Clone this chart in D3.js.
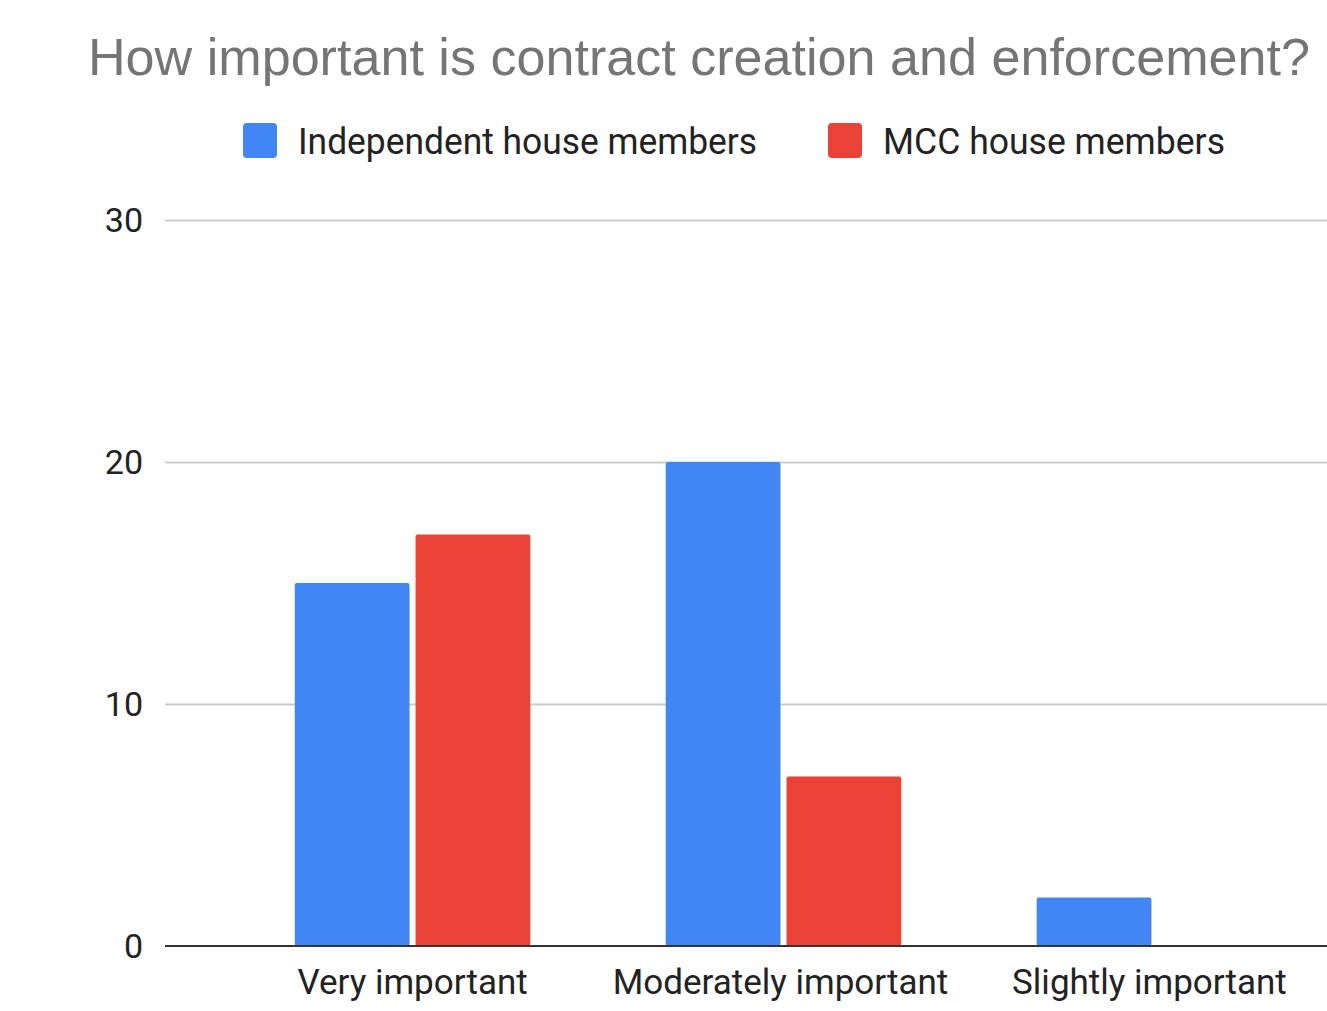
<!DOCTYPE html>
<html><head><meta charset="utf-8">
<script src="https://cdn.jsdelivr.net/npm/d3@7"></script>
<style>body{margin:0;background:#fff}svg{display:block}</style>
</head><body>
<svg id="c" width="1327" height="1011"></svg>
<script>
const titleText = "How important is contract creation and enforcement?";
const categories = ["Very important", "Moderately important", "Slightly important"];
const seriesNames = ["Independent house members", "MCC house members"];
const independentValues = [15, 20, 2];
const mccValues = [17, 7, 0];
const yTicks = [0, 10, 20, 30];
const colors = ["#4285f4", "#ea4335"];

const svg = d3.select("#c");
const plotLeft = 165, plotRight = 1327, plotTop = 220, plotBottom = 946;

const y = d3.scaleLinear().domain([0, 30]).range([plotBottom, plotTop]);
const x0 = d3.scaleBand().domain(categories).range([228, 1339]).paddingInner(0.365).paddingOuter(0.18);
const x1 = d3.scaleBand().domain(seriesNames).range([0, x0.bandwidth()]).paddingInner(0.05);

// title
svg.append("text").attr("x", 88).attr("y", 75)
  .attr("font-family", "Liberation Sans, Arial, sans-serif").attr("font-size", 52)
  .attr("textLength", 1222).attr("lengthAdjust", "spacingAndGlyphs")
  .attr("fill", "#757575").text(titleText);

// gridlines
const grid = svg.append("g");
yTicks.filter(t => t > 0).forEach(t => {
  grid.append("line").attr("x1", plotLeft).attr("x2", plotRight)
    .attr("y1", Math.round(y(t)) + 0.5).attr("y2", Math.round(y(t)) + 0.5)
    .attr("stroke", "#cccccc").attr("stroke-width", 2);
});

// y axis labels
const yAxis = d3.axisLeft(y).tickValues(yTicks).tickSize(0).tickPadding(0);
const ya = svg.append("g").attr("transform", `translate(143,0)`).call(yAxis);
ya.select(".domain").remove();
ya.selectAll("text").attr("font-family", "Roboto, sans-serif").attr("font-size", 34)
  .attr("fill", "#222").attr("dy", "0.35em");

// bars
const data = categories.map((c, i) => ({cat: c, vals: [independentValues[i], mccValues[i]]}));
const groups = svg.append("g").selectAll("g").data(data).join("g")
  .attr("transform", d => `translate(${x0(d.cat)},0)`);
groups.selectAll("rect").data(d => d.vals.map((v, j) => ({v, s: seriesNames[j], j})).filter(e => e.v > 0))
  .join("rect")
  .attr("x", d => x1(d.s)).attr("width", x1.bandwidth())
  .attr("y", d => y(d.v)).attr("height", d => y(0) - y(d.v))
  .attr("rx", 2).attr("fill", d => colors[d.j]);

// baseline
svg.append("line").attr("x1", plotLeft).attr("x2", plotRight)
  .attr("y1", plotBottom).attr("y2", plotBottom).attr("stroke", "#333").attr("stroke-width", 2);

// x axis labels
const xAxis = d3.axisBottom(x0).tickSize(0).tickPadding(0);
const xa = svg.append("g").attr("transform", `translate(0,${plotBottom})`).call(xAxis);
xa.select(".domain").remove();
xa.selectAll("text").attr("font-family", "Roboto, sans-serif").attr("font-size", 35)
  .attr("fill", "#222").attr("dy", "0").attr("y", 48)
  .attr("transform", (d, i) => `translate(${[0, -3, -5][i]},0)`);

// legend
const legendX = [243, 828];
const legendW = [459, 342];
const leg = svg.append("g");
seriesNames.forEach((s, i) => {
  leg.append("rect").attr("x", legendX[i]).attr("y", 123).attr("width", 34).attr("height", 35)
    .attr("rx", 4).attr("fill", colors[i]);
  leg.append("text").attr("x", legendX[i] + 55).attr("y", 154)
    .attr("font-family", "Roboto, sans-serif").attr("font-size", 36)
    .attr("textLength", legendW[i]).attr("lengthAdjust", "spacingAndGlyphs")
    .attr("fill", "#222").text(s);
});
</script>
</body></html>
